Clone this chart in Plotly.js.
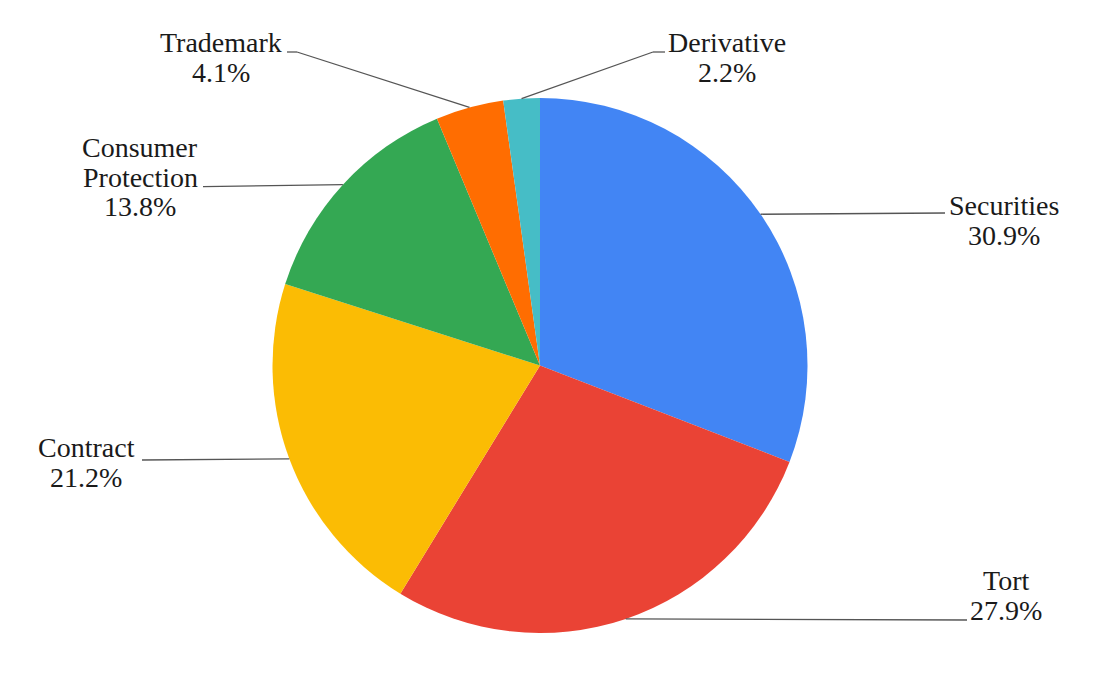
<!DOCTYPE html>
<html>
<head>
<meta charset="utf-8">
<script src="https://cdn.plot.ly/plotly-3.0.1.min.js"></script>
<style>html,body{margin:0;padding:0;background:#fff;}#chart{width:1115px;height:696px;}</style>
</head>
<body>
<div id="chart"></div>
<script>
// ---- data ----
const labels = ['Securities', 'Tort', 'Contract', 'Consumer Protection', 'Trademark', 'Derivative'];
const values = [30.9, 27.9, 21.2, 13.8, 4.1, 2.2];
const labelLines = [['Securities'], ['Tort'], ['Contract'], ['Consumer', 'Protection'], ['Trademark'], ['Derivative']];
const colors = ['#4285F4', '#EA4335', '#FBBC04', '#34A853', '#FF6D01', '#46BDC6'];

// ---- layout / style ----
const W = 1115, H = 696;
const CX = 540, CY = 365.5, R = 267.5;
const FS = 28, LINE_GAP = 29.5;
// callout geometry (pixels): leader path after the slice edge point, text centre x, first baseline
const callouts = [
  { path: [[945, 213]], tx: 1004, base: 215 },
  { path: [[967, 620]], tx: 1006, base: 590 },
  { path: [[142, 460]], tx: 86, base: 457 },
  { path: [[203, 186.7]], tx: 140, base: 157 },
  { path: [[297, 52], [287, 52]], tx: 221, base: 52 },
  { path: [[653, 52], [665, 52]], tx: 727, base: 52 }
];

const px = x => x / W;
const py = y => 1 - y / H;

const total = values.reduce((a, b) => a + b, 0);
let cum = 0;
const shapes = [];
const annotations = [];
values.forEach((v, i) => {
  const mid = (cum + v / 2) / total;
  cum += v;
  const th = mid * 2 * Math.PI;
  const ex = CX + R * Math.sin(th);
  const ey = CY - R * Math.cos(th);
  const c = callouts[i];
  let prev = [ex, ey];
  c.path.forEach(p => {
    shapes.push({
      type: 'line', xref: 'paper', yref: 'paper',
      x0: px(prev[0]), y0: py(prev[1]), x1: px(p[0]), y1: py(p[1]),
      line: { color: '#555555', width: 1.3 }
    });
    prev = p;
  });
  const lines = labelLines[i].concat([v.toFixed(1) + '%']);
  lines.forEach((t, k) => {
    const base = c.base + k * LINE_GAP;
    annotations.push({
      xref: 'paper', yref: 'paper',
      x: px(c.tx), y: py(base - 0.3375 * FS),
      xanchor: 'center', yanchor: 'middle',
      text: t, showarrow: false,
      font: { family: 'Liberation Serif, Times New Roman, serif', size: FS, color: '#1a1a1a' }
    });
  });
});

const trace = {
  type: 'pie',
  labels: labels,
  values: values,
  sort: false,
  direction: 'clockwise',
  rotation: 0,
  textinfo: 'none',
  hoverinfo: 'label+value',
  marker: { colors: colors, line: { width: 0 } },
  domain: { x: [px(CX - R), px(CX + R)], y: [py(CY + R), py(CY - R)] },
  showlegend: false
};

const layout = {
  width: W, height: H,
  margin: { l: 0, r: 0, t: 0, b: 0 },
  paper_bgcolor: '#ffffff',
  showlegend: false,
  shapes: shapes,
  annotations: annotations
};

Plotly.newPlot('chart', [trace], layout, { displayModeBar: false, staticPlot: true });
</script>
</body>
</html>
